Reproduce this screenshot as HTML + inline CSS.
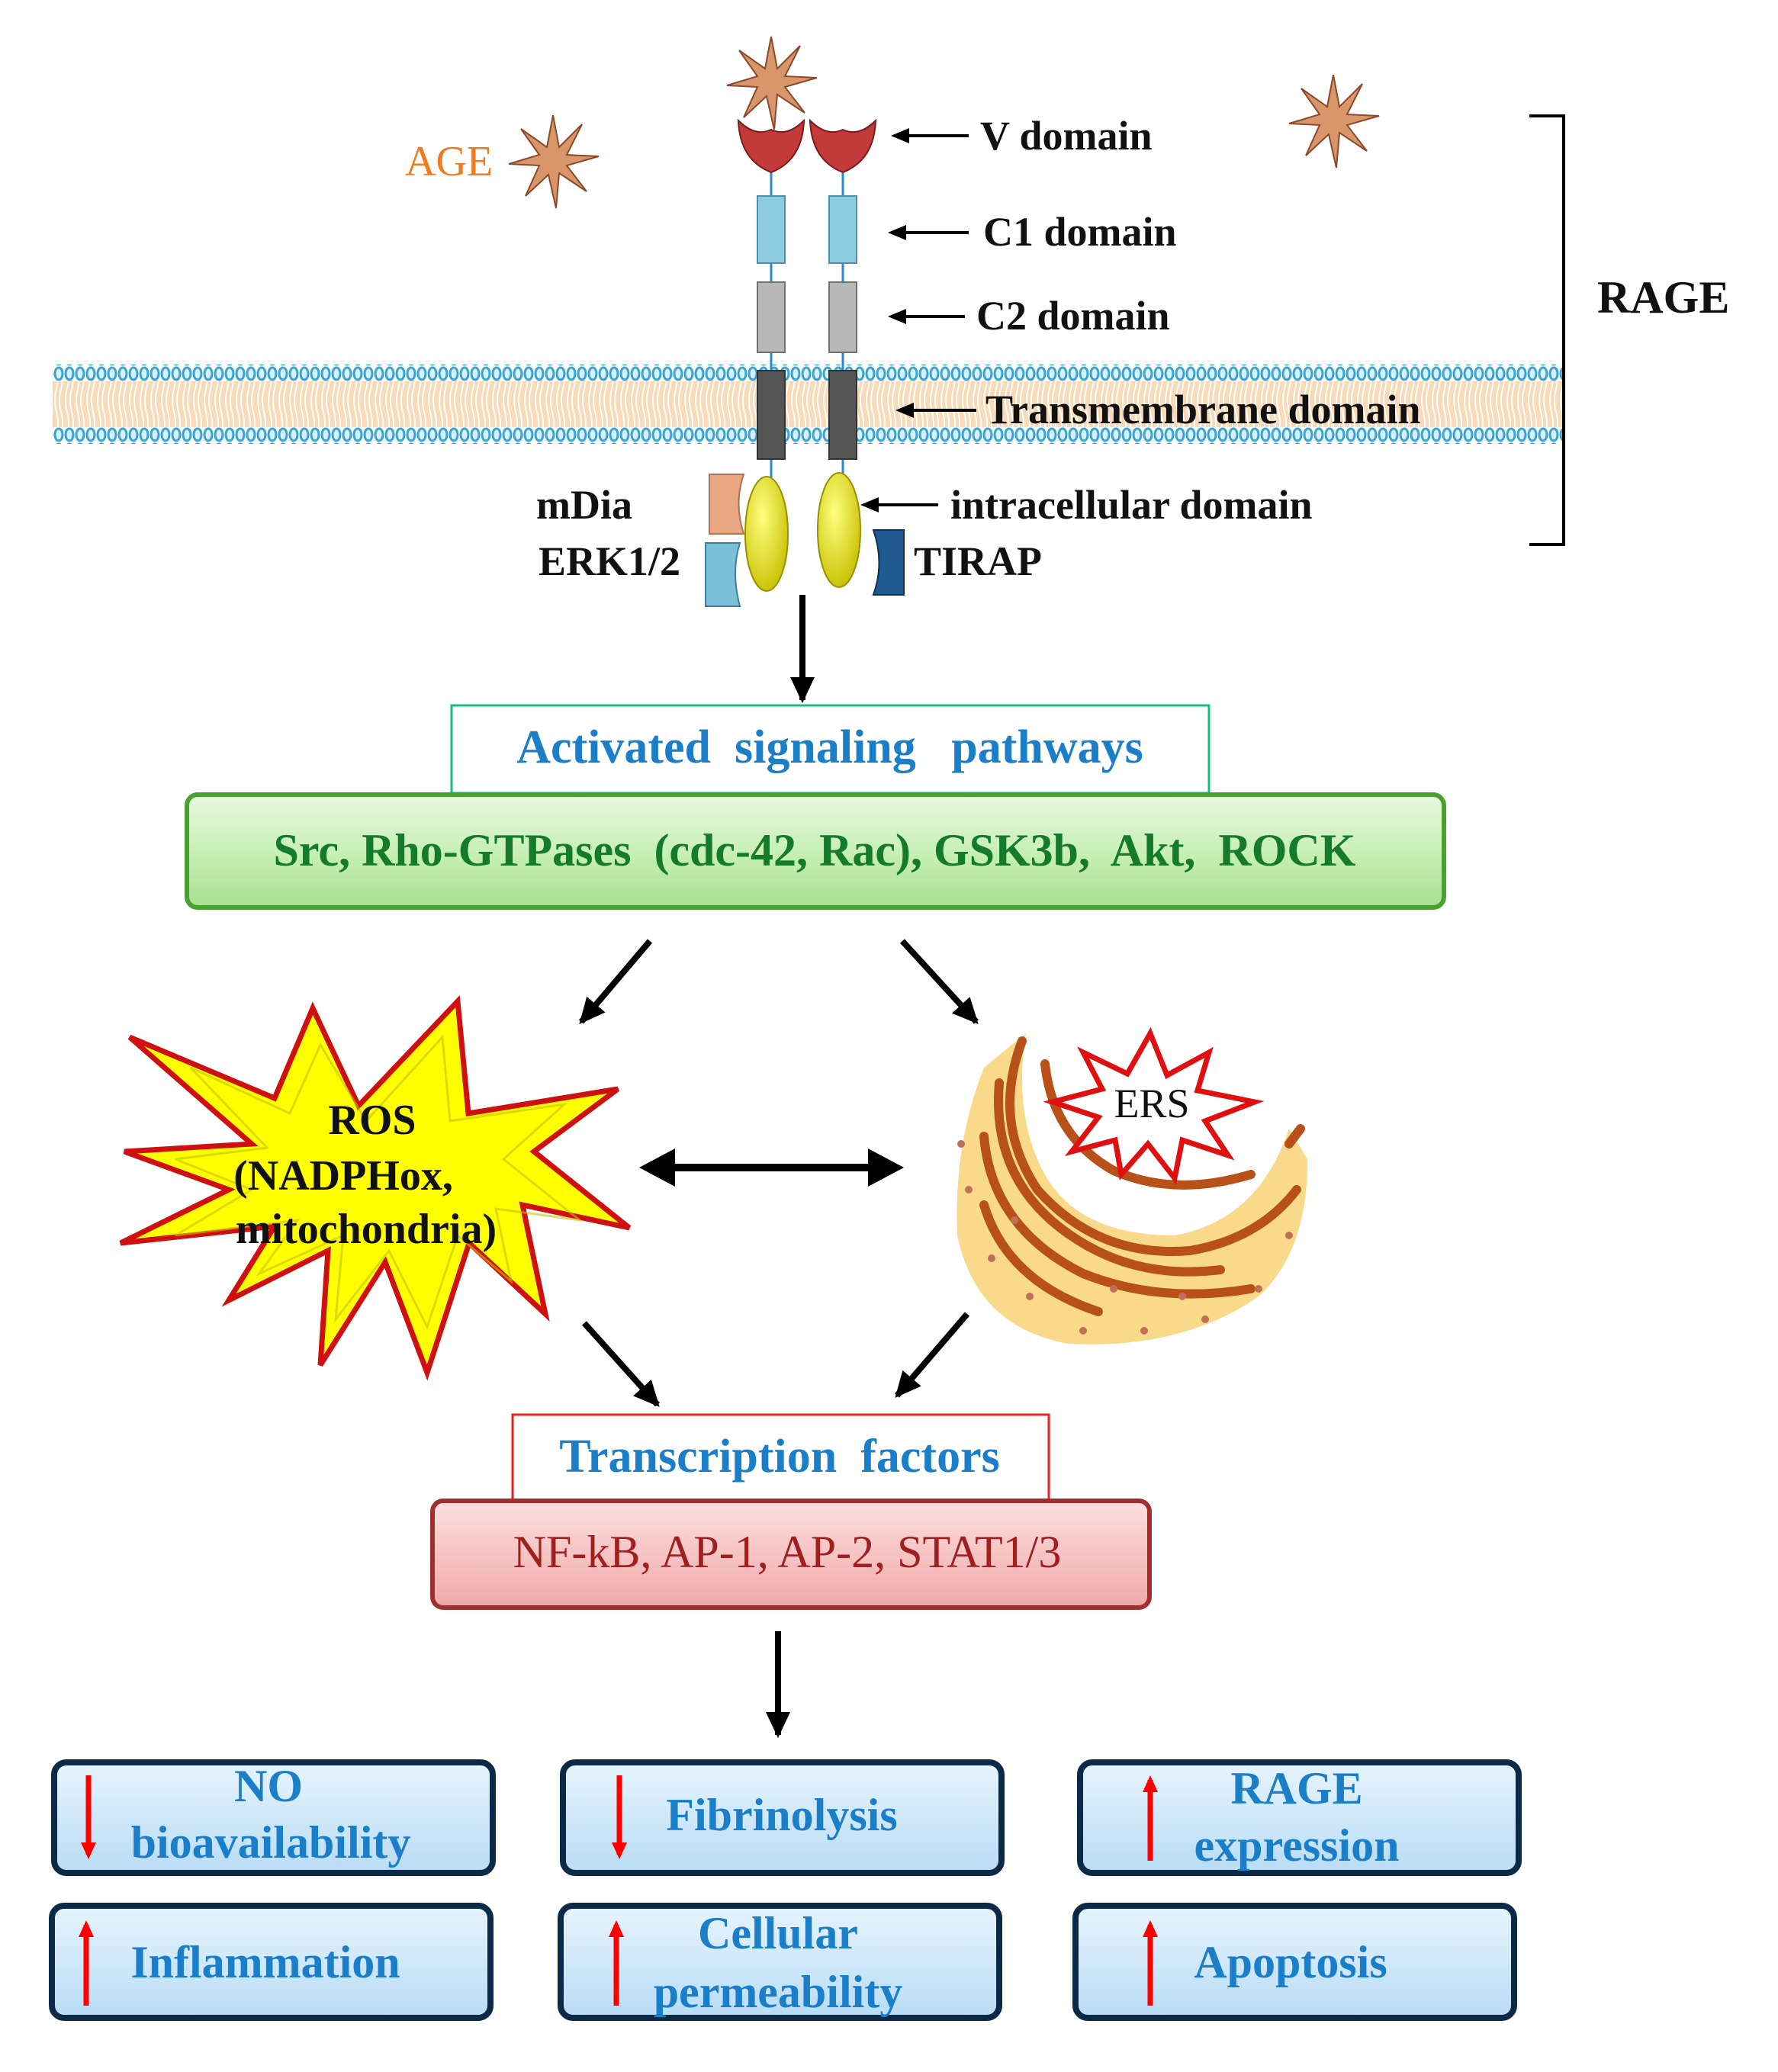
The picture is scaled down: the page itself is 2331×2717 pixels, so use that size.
<!DOCTYPE html>
<html><head><meta charset="utf-8"><style>
html,body{margin:0;padding:0;background:#fff}
svg{display:block}
text{font-family:"Liberation Serif",serif;font-weight:bold}
</style></head><body>
<svg width="2331" height="2717" viewBox="0 0 2331 2717" xmlns="http://www.w3.org/2000/svg">
<defs>
<pattern id="heads" width="14" height="20" patternUnits="userSpaceOnUse">
<ellipse cx="7" cy="10" rx="5" ry="8" fill="#d8f0f8" stroke="#3aa6d0" stroke-width="3"/>
</pattern>
<pattern id="tails" width="14" height="60" patternUnits="userSpaceOnUse">
<rect width="14" height="60" fill="#f8d9b8"/>
<path d="M4 0 Q8 15 4 30 Q0 45 4 60 M10 0 Q14 15 10 30 Q6 45 10 60" stroke="#fff" stroke-width="2" fill="none"/>
</pattern>
<marker id="ah" markerWidth="40" markerHeight="40" refX="30" refY="20" orient="auto" markerUnits="userSpaceOnUse">
<path d="M0,4 L34,20 L0,36 Z" fill="#000"/></marker>
<marker id="ahl" markerWidth="30" markerHeight="30" refX="20" refY="15" orient="auto" markerUnits="userSpaceOnUse">
<path d="M0,5 L24,15 L0,25 Z" fill="#000"/></marker>
<marker id="ahr" markerWidth="30" markerHeight="30" refX="16" refY="15" orient="auto" markerUnits="userSpaceOnUse">
<path d="M0,5 L22,15 L0,25 Z" fill="#f00"/></marker>
<linearGradient id="gb" x1="0" y1="0" x2="0" y2="1"><stop offset="0" stop-color="#e8f8e0"/><stop offset="0.5" stop-color="#c8f0b8"/><stop offset="1" stop-color="#a8e090"/></linearGradient>
<linearGradient id="pb" x1="0" y1="0" x2="0" y2="1"><stop offset="0" stop-color="#fde0e0"/><stop offset="1" stop-color="#f0a8a8"/></linearGradient>
<linearGradient id="bb" x1="0" y1="0" x2="0" y2="1"><stop offset="0" stop-color="#e6f4fd"/><stop offset="1" stop-color="#b9dcf5"/></linearGradient>
<radialGradient id="yel" cx="0.4" cy="0.35" r="0.7"><stop offset="0" stop-color="#ffff80"/><stop offset="1" stop-color="#c8c000"/></radialGradient>
<g id="star">
<path d="M0,-60 L8,-18 L38,-48 L18,-8 L60,-6 L18,6 L44,40 L8,16 L4,62 L-6,18 L-36,46 L-18,6 L-58,4 L-18,-8 L-42,-42 L-8,-18 Z" fill="#d8966a" stroke="#8a4a2a" stroke-width="2"/>
</g>
</defs>

<rect x="69" y="478" width="1980" height="22" fill="url(#heads)"/>
<rect x="69" y="500" width="1980" height="60" fill="url(#tails)"/>
<rect x="69" y="560" width="1980" height="22" fill="url(#heads)"/>

<use href="#star" transform="translate(725,211)"/>
<use href="#star" transform="translate(1011,108)"/>
<use href="#star" transform="translate(1748,158)"/>
<text x="531" y="230" font-size="56" fill="#f07a20" style="font-weight:normal">AGE</text>

<g>
<line x1="1011" y1="200" x2="1011" y2="640" stroke="#2a8ad0" stroke-width="3"/>
<line x1="1105" y1="200" x2="1105" y2="640" stroke="#2a8ad0" stroke-width="3"/>
<path d="M968,158 Q990,180 1011,170 Q1032,180 1054,158 Q1052,210 1011,226 Q970,210 968,158Z" fill="#c23a3a" stroke="#7a1a1a" stroke-width="2"/>
<path d="M1062,158 Q1084,180 1105,170 Q1126,180 1148,158 Q1146,210 1105,226 Q1064,210 1062,158Z" fill="#c23a3a" stroke="#7a1a1a" stroke-width="2"/>
<rect x="993" y="257" width="36" height="88" fill="#8ccbe0" stroke="#4a90b0" stroke-width="2"/>
<rect x="1087" y="257" width="36" height="88" fill="#8ccbe0" stroke="#4a90b0" stroke-width="2"/>
<rect x="993" y="370" width="36" height="92" fill="#b8b8b8" stroke="#707070" stroke-width="2"/>
<rect x="1087" y="370" width="36" height="92" fill="#b8b8b8" stroke="#707070" stroke-width="2"/>
<rect x="993" y="486" width="36" height="116" fill="#555" stroke="#333" stroke-width="2"/>
<rect x="1087" y="486" width="36" height="116" fill="#555" stroke="#333" stroke-width="2"/>
<path d="M930,622 L975,622 Q962,660 975,700 L930,700Z" fill="#eaa882" stroke="#b07050" stroke-width="2"/>
<path d="M925,712 L970,712 Q958,750 970,795 L925,795Z" fill="#7cc0d8" stroke="#3a80a0" stroke-width="2"/>
<path d="M1145,695 L1185,695 L1185,780 L1145,780 Q1160,738 1145,695Z" fill="#1f5a90" stroke="#103050" stroke-width="2"/>
<ellipse cx="1005" cy="700" rx="28" ry="75" fill="url(#yel)" stroke="#999000" stroke-width="2"/>
<ellipse cx="1100" cy="695" rx="28" ry="75" fill="url(#yel)" stroke="#999000" stroke-width="2"/>
</g>

<g stroke="#000" stroke-width="4" marker-end="url(#ahl)">
<line x1="1270" y1="178" x2="1172" y2="178"/>
<line x1="1270" y1="305" x2="1168" y2="305"/>
<line x1="1265" y1="415" x2="1168" y2="415"/>
<line x1="1280" y1="538" x2="1178" y2="538"/>
<line x1="1230" y1="662" x2="1132" y2="662"/>
</g>
<g font-size="54" fill="#111">
<text x="1285" y="196">V domain</text>
<text x="1289" y="322">C1 domain</text>
<text x="1280" y="432">C2 domain</text>
<text x="1292" y="555">Transmembrane domain</text>
<text x="1246" y="680">intracellular domain</text>
<text x="703" y="680">mDia</text>
<text x="706" y="754">ERK1/2</text>
<text x="1198" y="754">TIRAP</text>
<text x="2094" y="410" font-size="60">RAGE</text>
</g>
<path d="M2005,152 L2050,152 L2050,714 L2005,714" fill="none" stroke="#000" stroke-width="4"/>

<line x1="1052" y1="780" x2="1052" y2="918" stroke="#000" stroke-width="8" marker-end="url(#ah)"/>

<rect x="592" y="925" width="993" height="115" fill="#fff" stroke="#10c080" stroke-width="3"/>
<text x="1088" y="1000" font-size="62" fill="#1a7ec8" text-anchor="middle" xml:space="preserve">Activated  signaling   pathways</text>
<rect x="245" y="1042" width="1648" height="148" rx="14" fill="url(#gb)" stroke="#4aa030" stroke-width="6"/>
<text x="1068" y="1135" font-size="60" fill="#157a2a" text-anchor="middle" xml:space="preserve">Src, Rho-GTPases  (cdc-42, Rac), GSK3b,  Akt,  ROCK</text>

<g stroke="#000" stroke-width="8" marker-end="url(#ah)">
<line x1="852" y1="1234" x2="762" y2="1340"/>
<line x1="1183" y1="1234" x2="1280" y2="1340"/>
<line x1="766" y1="1735" x2="862" y2="1842"/>
<line x1="1268" y1="1723" x2="1176" y2="1830"/>
<line x1="1020" y1="2139" x2="1020" y2="2275"/>
</g>
<line x1="870" y1="1531" x2="1150" y2="1531" stroke="#000" stroke-width="10"/>
<path d="M838,1531 L885,1506 L885,1556Z" fill="#000"/>
<path d="M1185,1531 L1138,1506 L1138,1556Z" fill="#000"/>

<path d="M600,1313 L614,1460 L810,1428 L700,1510 L825,1610 L685,1580 L715,1723 L615,1630 L560,1800 L505,1655 L420,1790 L430,1640 L300,1705 L360,1608 L158,1630 L300,1560 L163,1510 L330,1500 L170,1360 L360,1440 L410,1322 L470,1450 Z" fill="#ffff00" stroke="#d01010" stroke-width="7"/>
<path d="M580,1360 L590,1470 L740,1448 L660,1520 L760,1600 L650,1585 L670,1680 L600,1620 L560,1740 L510,1640 L440,1730 L450,1620 L340,1670 L390,1600 L230,1620 L330,1560 L230,1520 L350,1505 L250,1400 L380,1460 L420,1370 L480,1470 Z" fill="none" stroke="#c8c000" stroke-width="3" opacity="0.6"/>
<g font-size="56" fill="#111" text-anchor="middle" style="font-weight:normal">
<text x="488" y="1487">ROS</text>
<text x="450" y="1560">(NADPHox,</text>
<text x="480" y="1630">mitochondria)</text>
</g>

<g>
<path d="M1290,1400 Q1250,1500 1255,1620 Q1280,1740 1400,1762 Q1550,1770 1650,1700 Q1715,1640 1714,1520 L1690,1480 Q1650,1600 1540,1620 Q1400,1620 1360,1520 Q1330,1450 1345,1355 Z" fill="#f9d98a"/>
<g fill="none" stroke="#b8501a" stroke-width="12" stroke-linecap="round">
<path d="M1340,1365 Q1300,1470 1360,1560 Q1440,1650 1560,1640 Q1650,1625 1700,1560"/>
<path d="M1310,1420 Q1300,1540 1390,1610 Q1480,1680 1600,1665"/>
<path d="M1290,1490 Q1300,1610 1420,1670 Q1520,1710 1640,1690"/>
<path d="M1290,1580 Q1320,1680 1440,1720"/>
<path d="M1370,1395 Q1380,1490 1460,1535 Q1540,1570 1640,1540"/>
<path d="M1690,1500 L1705,1480"/>
</g>
<g fill="#c0705a">
<circle cx="1270" cy="1560" r="5"/><circle cx="1300" cy="1650" r="5"/><circle cx="1350" cy="1700" r="5"/><circle cx="1420" cy="1745" r="5"/><circle cx="1500" cy="1745" r="5"/><circle cx="1580" cy="1730" r="5"/><circle cx="1650" cy="1690" r="5"/><circle cx="1690" cy="1620" r="5"/><circle cx="1330" cy="1600" r="5"/><circle cx="1460" cy="1690" r="5"/><circle cx="1550" cy="1700" r="5"/><circle cx="1260" cy="1500" r="5"/>
</g>
<path d="M1508,1355 L1530,1410 L1585,1380 L1570,1430 L1645,1445 L1580,1470 L1610,1515 L1550,1495 L1540,1545 L1505,1500 L1470,1540 L1462,1495 L1405,1510 L1440,1465 L1380,1445 L1445,1428 L1420,1380 L1478,1408 Z" fill="#fff" stroke="#e01010" stroke-width="7"/>
<text x="1510" y="1465" font-size="54" fill="#111" text-anchor="middle" style="font-weight:normal">ERS</text>
</g>

<rect x="672" y="1855" width="703" height="116" fill="#fff" stroke="#e82020" stroke-width="3"/>
<text x="1022" y="1930" font-size="62" fill="#1a7ec8" text-anchor="middle" xml:space="preserve">Transcription  factors</text>
<rect x="567" y="1968" width="940" height="140" rx="14" fill="url(#pb)" stroke="#a03030" stroke-width="6"/>
<text x="1032" y="2055" font-size="60" fill="#a02020" text-anchor="middle" style="font-weight:normal">NF-kB,  AP-1, AP-2, STAT1/3</text>

<g fill="url(#bb)" stroke="#0c2a48" stroke-width="8">
<rect x="71" y="2311" width="575" height="145" rx="16"/>
<rect x="738" y="2311" width="575" height="145" rx="16"/>
<rect x="1416" y="2311" width="575" height="145" rx="16"/>
<rect x="68" y="2499" width="575" height="147" rx="16"/>
<rect x="735" y="2499" width="575" height="147" rx="16"/>
<rect x="1410" y="2499" width="575" height="147" rx="16"/>
</g>
<g stroke="#f00" stroke-width="7">
<line x1="116" y1="2328" x2="116" y2="2432" marker-end="url(#ahr)"/>
<line x1="812" y1="2328" x2="812" y2="2432" marker-end="url(#ahr)"/>
<line x1="1508" y1="2440" x2="1508" y2="2334" marker-end="url(#ahr)"/>
<line x1="113" y1="2630" x2="113" y2="2524" marker-end="url(#ahr)"/>
<line x1="808" y1="2630" x2="808" y2="2524" marker-end="url(#ahr)"/>
<line x1="1508" y1="2630" x2="1508" y2="2524" marker-end="url(#ahr)"/>
</g>
<g font-size="60" fill="#1a7ec8" text-anchor="middle">
<text x="352" y="2362">NO</text>
<text x="355" y="2436">bioavailability</text>
<text x="1025" y="2400">Fibrinolysis</text>
<text x="1700" y="2365">RAGE</text>
<text x="1700" y="2440">expression</text>
<text x="348" y="2593">Inflammation</text>
<text x="1020" y="2555">Cellular</text>
<text x="1020" y="2632">permeability</text>
<text x="1692" y="2593">Apoptosis</text>
</g>
</svg>
</body></html>
